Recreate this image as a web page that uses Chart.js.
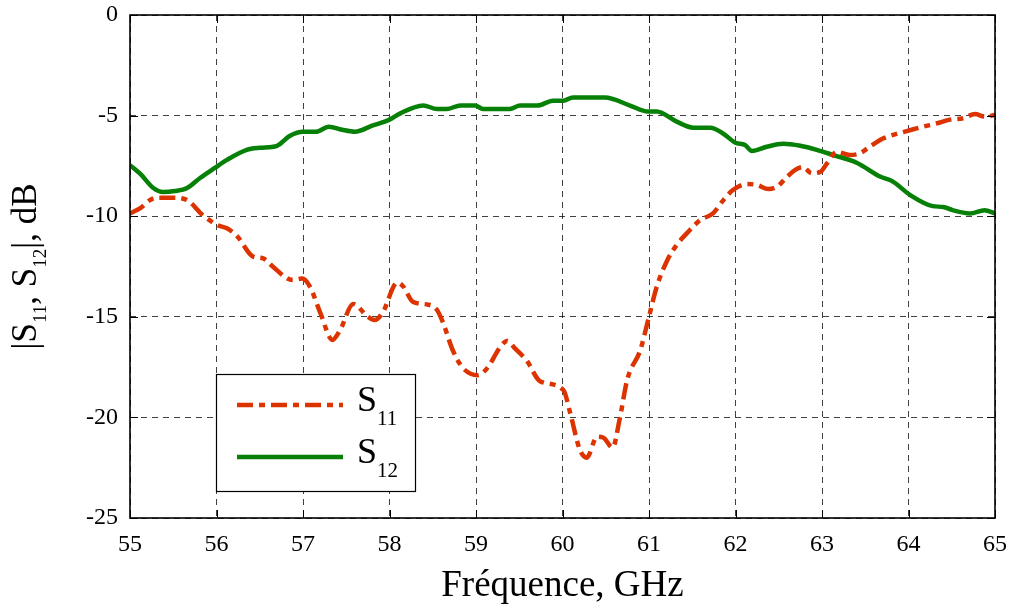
<!DOCTYPE html>
<html>
<head>
<meta charset="utf-8">
<script src="https://cdn.jsdelivr.net/npm/chart.js@4.4.1/dist/chart.umd.min.js"></script>
<style>
  html, body { margin: 0; background: #fff; }
</style>
</head>
<body>
<canvas id="chart" width="1011" height="608"></canvas>
<script>
// values
const freqS11 = [55.00,55.12,55.23,55.31,55.50,55.66,55.84,56.01,56.12,56.24,56.42,56.54,56.65,56.82,56.88,56.99,57.08,57.20,57.34,57.43,57.58,57.75,57.83,57.92,58.09,58.16,58.27,58.45,58.55,58.62,58.73,58.85,59.02,59.13,59.28,59.36,59.45,59.59,59.74,60.01,60.09,60.20,60.28,60.40,60.47,60.58,60.66,60.75,60.90,60.99,61.09,61.21,61.32,61.47,61.59,61.74,61.86,61.97,62.13,62.25,62.38,62.48,62.60,62.69,62.78,62.88,62.98,63.06,63.17,63.32,63.44,63.55,63.71,63.82,63.98,64.17,64.33,64.48,64.63,64.77,64.88,65.00]
const s11 = [-9.86,-9.6,-9.2,-9.08,-9.08,-9.2,-9.94,-10.44,-10.6,-11.0,-12.0,-12.1,-12.5,-13.1,-13.17,-13.1,-13.5,-14.8,-16.15,-15.65,-14.36,-15.0,-15.16,-14.8,-13.3,-13.5,-14.25,-14.4,-14.66,-15.3,-16.65,-17.55,-17.9,-17.55,-16.5,-16.2,-16.57,-17.2,-18.2,-18.64,-19.8,-21.6,-22.0,-20.96,-21.0,-21.5,-20.1,-18.1,-16.65,-15.16,-13.5,-12.2,-11.43,-10.7,-10.2,-9.86,-9.2,-8.7,-8.4,-8.45,-8.65,-8.53,-8.03,-7.7,-7.56,-7.86,-7.8,-7.36,-6.8,-6.96,-6.87,-6.55,-6.13,-5.96,-5.77,-5.55,-5.38,-5.2,-5.13,-4.92,-5.05,-4.97]

const freqS12 = [55.00,55.12,55.27,55.38,55.52,55.66,55.81,55.98,56.12,56.35,56.5,56.7,56.85,57.0,57.15,57.3,57.45,57.6,57.8,58.0,58.12,58.39,58.55,58.66,58.82,58.99,59.08,59.39,59.51,59.71,59.89,60.01,60.12,60.49,60.78,60.99,61.09,61.32,61.51,61.71,61.86,62.0,62.11,62.19,62.36,62.55,62.75,62.94,63.13,63.40,63.67,63.82,64.02,64.28,64.40,64.51,64.71,64.88,65.0]
const s12 = [-7.46,-7.9,-8.6,-8.8,-8.75,-8.6,-8.1,-7.6,-7.2,-6.7,-6.6,-6.5,-6.0,-5.8,-5.8,-5.55,-5.7,-5.8,-5.5,-5.2,-4.9,-4.5,-4.67,-4.67,-4.5,-4.5,-4.67,-4.67,-4.5,-4.5,-4.26,-4.26,-4.1,-4.1,-4.5,-4.8,-4.8,-5.3,-5.6,-5.6,-5.9,-6.35,-6.46,-6.76,-6.55,-6.4,-6.5,-6.7,-6.96,-7.34,-8.03,-8.28,-8.95,-9.5,-9.54,-9.7,-9.86,-9.7,-9.86]

const xTicks = [55, 56, 57, 58, 59, 60, 61, 62, 63, 64, 65]
const yTicks = [0, -5, -10, -15, -20, -25]

const RED = '#dc3300'
const GREEN = '#078007'
const S11_DASH = [16, 6, 6, 6]
const SERIF = '"Liberation Serif", "DejaVu Serif", serif'

const toPoints = (xs, ys) => xs.map((x, i) => ({ x: x, y: ys[i] }))

// draws text pieces in a row, some of them lowered as subscripts
function drawRich(ctx, parts, x, y, size, subSize) {
  let cx = x
  parts.forEach(p => {
    ctx.font = `${p.sub ? subSize : size}px ${SERIF}`
    ctx.fillText(p.t, cx, y + (p.sub ? p.dy : 0))
    cx += ctx.measureText(p.t).width
  })
}
function richWidth(ctx, parts, size, subSize) {
  let w = 0
  parts.forEach(p => {
    ctx.font = `${p.sub ? subSize : size}px ${SERIF}`
    w += ctx.measureText(p.t).width
  })
  return w
}

const matlabFrame = {
  id: 'matlabFrame',
  afterDatasetsDraw(chart) {
    const { ctx, chartArea: a, scales: { x, y } } = chart
    ctx.save()
    ctx.setLineDash([])
    ctx.strokeStyle = '#000'

    // inward tick marks on all four sides
    ctx.lineWidth = 1
    ctx.beginPath()
    xTicks.forEach(v => {
      const px = Math.round(x.getPixelForValue(v)) + 0.5
      ctx.moveTo(px, a.bottom); ctx.lineTo(px, a.bottom - 8)
      ctx.moveTo(px, a.top); ctx.lineTo(px, a.top + 8)
    })
    yTicks.forEach(v => {
      const py = Math.round(y.getPixelForValue(v)) + 0.5
      ctx.moveTo(a.left, py); ctx.lineTo(a.left + 8, py)
      ctx.moveTo(a.right, py); ctx.lineTo(a.right - 8, py)
    })
    ctx.stroke()

    // frame
    ctx.lineWidth = 1.6
    ctx.strokeRect(a.left, a.top, a.right - a.left, a.bottom - a.top)

    // legend box
    const bx = a.left + 86, by = a.top + 359, bw = 199, bh = 117
    ctx.fillStyle = '#fff'
    ctx.fillRect(bx, by, bw, bh)
    ctx.lineWidth = 1.2
    ctx.strokeRect(bx + 0.5, by + 0.5, bw, bh)

    const rows = [
      { color: RED, dash: S11_DASH, sub: '11' },
      { color: GREEN, dash: [], sub: '12' }
    ]
    rows.forEach((r, i) => {
      const ly = by + 31 + i * 52
      ctx.strokeStyle = r.color
      ctx.lineWidth = 4.5
      ctx.setLineDash(r.dash)
      ctx.beginPath()
      ctx.moveTo(bx + 21, ly); ctx.lineTo(bx + 127, ly)
      ctx.stroke()
      ctx.setLineDash([])
      ctx.fillStyle = '#000'
      ctx.textBaseline = 'alphabetic'
      ctx.textAlign = 'left'
      drawRich(ctx, [{ t: 'S' }, { t: r.sub, sub: true, dy: 14 }], bx + 141, ly + 6, 36, 21)
    })

    // y axis title with subscripts
    const parts = [
      { t: '|S' }, { t: '11', sub: true, dy: 10 }, { t: ', S' },
      { t: '12', sub: true, dy: 10 }, { t: '|, dB' }
    ]
    ctx.fillStyle = '#000'
    ctx.textBaseline = 'alphabetic'
    ctx.textAlign = 'left'
    const w = richWidth(ctx, parts, 35, 19)
    ctx.translate(36, (a.top + a.bottom) / 2)
    ctx.rotate(-Math.PI / 2)
    drawRich(ctx, parts, -w / 2, 0, 35, 19)
    ctx.restore()
  }
}

new Chart(document.getElementById('chart'), {
  type: 'line',
  data: {
    datasets: [
      {
        label: 'S11',
        data: toPoints(freqS11, s11),
        borderColor: RED,
        borderWidth: 4.5,
        borderDash: S11_DASH,
        pointRadius: 0,
        cubicInterpolationMode: 'monotone',
        fill: false
      },
      {
        label: 'S12',
        data: toPoints(freqS12, s12),
        borderColor: GREEN,
        borderWidth: 4.5,
        pointRadius: 0,
        cubicInterpolationMode: 'monotone',
        fill: false
      }
    ]
  },
  options: {
    responsive: false,
    animation: false,
    layout: { padding: { top: 15, right: 16, left: 0, bottom: 0 } },
    plugins: { legend: { display: false }, tooltip: { enabled: false } },
    scales: {
      x: {
        type: 'linear',
        min: 55,
        max: 65,
        afterBuildTicks: s => { s.ticks = xTicks.map(v => ({ value: v })) },
        afterFit: s => { s.height = 90; s.paddingLeft = 0; s.paddingRight = 0 },
        ticks: { color: '#000', font: { family: SERIF, size: 24 }, padding: 12, maxRotation: 0, autoSkip: false },
        grid: { color: 'rgba(0,0,0,0.75)', lineWidth: 1, drawTicks: false },
        border: { display: false, dash: [6, 5] },
        title: {
          display: true,
          text: 'Fréquence, GHz',
          color: '#000',
          font: { family: SERIF, size: 37 },
          padding: { top: 0, bottom: 0 }
        }
      },
      y: {
        min: -25,
        max: 0,
        afterBuildTicks: s => { s.ticks = yTicks.map(v => ({ value: v })) },
        afterFit: s => { s.width = 130; s.paddingTop = 0; s.paddingBottom = 0 },
        ticks: { color: '#000', font: { family: SERIF, size: 24 }, padding: 12 },
        grid: { color: 'rgba(0,0,0,0.75)', lineWidth: 1, drawTicks: false },
        border: { display: false, dash: [6, 5] }
      }
    }
  },
  plugins: [matlabFrame]
})
</script>
</body>
</html>
